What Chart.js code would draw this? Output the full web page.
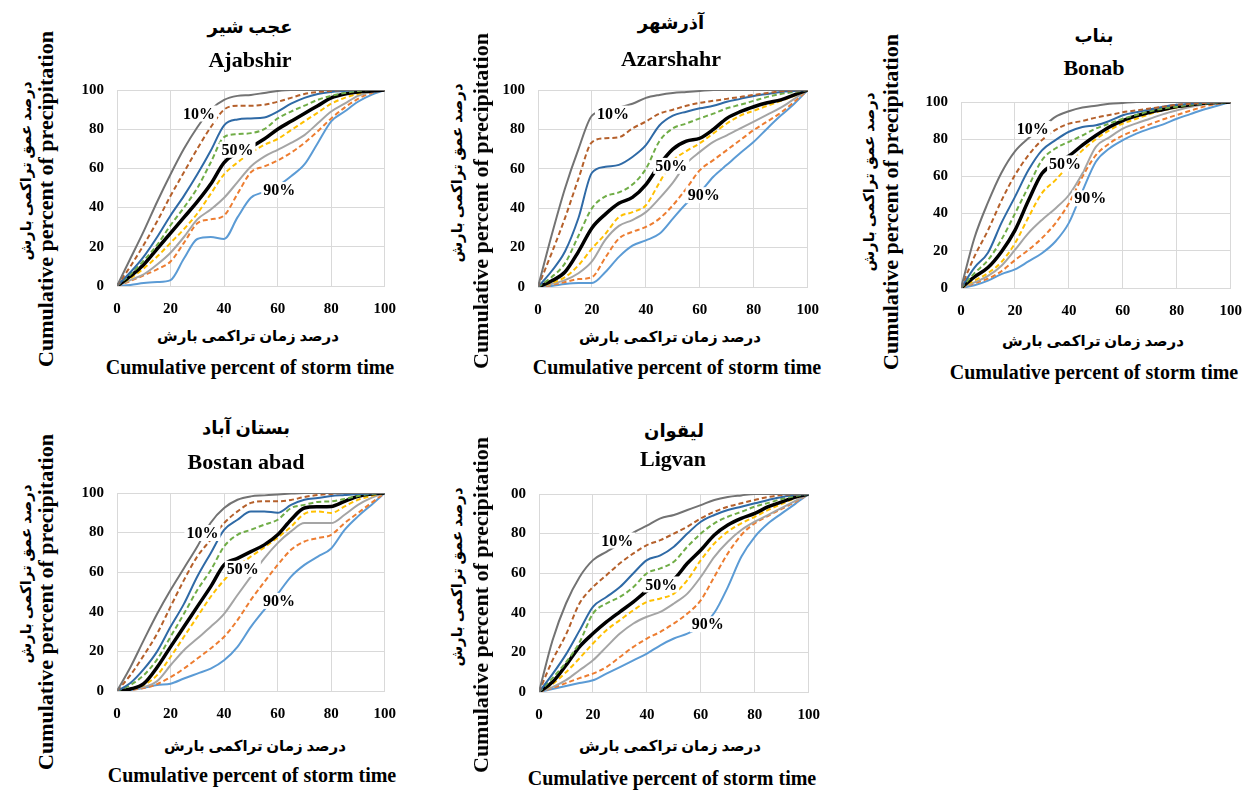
<!DOCTYPE html>
<html><head><meta charset="utf-8">
<script src="https://cdn.jsdelivr.net/npm/chart.js@4.4.1/dist/chart.umd.min.js"></script>
<style>
html,body{margin:0;padding:0;background:#fff;}
body{width:1253px;height:791px;position:relative;overflow:hidden;font-family:'Liberation Serif','DejaVu Sans',serif;}
.t{position:absolute;white-space:nowrap;font-weight:bold;color:#000;transform:translate(-50%,-50%);line-height:1;}
.r{transform:translate(-50%,-50%) rotate(-90deg);}
canvas{position:absolute;}
</style></head><body>
<script>
// ---------- shared axis data ----------
const xPct = [0,5,10,15,20,25,30,35,40,45,50,55,60,65,70,75,80,85,90,95,100];
const seriesNames = ['10%','20%','30%','40%','50%','60%','70%','80%','90%'];
const xTickLabels = ['0','20','40','60','80','100'];
const yTickLabels = ['0','20','40','60','80','100'];
const yTickLabelsLigvan = ['0','20','40','60','80','00'];
const curveLabels = ['10%','50%','90%'];

// ---------- Ajabshir ----------
const aj10 = [0,14,28,43,57,70,81,90,95,97,97.5,98.5,99.5,100,100,100,100,100,100,100,100];
const aj20 = [0,10,21,33,46,58,70,81,90,92,92,92.5,94,96,98,99,99.5,100,100,100,100];
const aj30 = [0,7,15,25,36,46,57,69,82,85,85.5,86,89,93,96,98,99,99.5,100,100,100];
const aj40 = [0,6,13,21,31,40,50,63,76,77.5,78,80,85.5,89,92,95,97,98.5,99.5,100,100];
const aj50 = [0,5,11,19,27,35,43,52,63,68,71,75,80,84,88,92,96,98,99,99.5,100];
const aj60 = [0,4,9,15,22,29,37,47,57,63,68,72,75,79.5,84,88.5,93,96,98,99.5,100];
const aj70 = [0,3,6,11,17,25,34,39,45,53,61,66,69.5,73,77,83,89,93,97,99,100];
const aj80 = [0,2.5,5.5,8.5,12.5,22,32,34,36,47,58,61,64,68,73,79,85.5,91,95.5,98.5,100];
const aj90 = [0,0.5,1.5,2,3,14,24,25,24,35,45,48,51,56,62,73,84,89,94,97.5,100];
const ajLabelX = [30.6,45,60.6];
const ajLabelY = [88,69.5,49];

// ---------- Azarshahr ----------
const az10 = [0,26,50,70,87,89.5,91,93,96,97.5,98.5,99,99.5,100,100,100,100,100,100,100,100];
const az20 = [0,17,35,55,73.5,75.5,76,80.5,84,88,90,92,93.5,94.5,95.5,96.5,97.5,98.5,99.3,99.7,100];
const az30 = [0,8,18,35,58,61,62,66,72,82,87,89,90.7,92,94,95.5,97,98,99,99.5,100];
const az40 = [0,5,12,26,40,46,48,52,60,74,80.5,83,85.6,88,90.7,92.5,94.5,96.5,98,99,100];
const az50 = [0,3,7.6,18,30,37,42.5,45.5,52,62,70,74,75.5,80,85.6,89,91.5,93.5,95,97.5,100];
const az60 = [0,2,5,11,19.5,27,35.5,38,41.5,53,64,69,73,78,83,87,89.5,92,94.5,97,100];
const az70 = [0,1.5,3.5,7,13,24,31,34,38,45,53,62.7,68.6,73.7,77,80.5,84,87.5,91,95.5,100];
const az80 = [0,1,2.5,4,5,15,24.6,28,30.5,34.7,41.5,50,59.3,64.4,69.5,74.6,79.7,84,88.5,94,100];
const az90 = [0,0.5,1.5,2,2,7.6,15.3,21,23.7,27,34.7,42.4,48,56,62,68,73.7,80.5,87,93,100];
const azLabelX = [27.8,49.4,61.4];
const azLabelY = [88,61.5,46.6];

// ---------- Bonab ----------
const bo10 = [0,27,46,62,73.5,80.5,86,92,95,97,98,99,99.5,100,100,100,100,100,100,100,100];
const bo20 = [0,17,31,47,60.7,71.4,79.5,85,88.4,89.8,91.6,93,94.5,95.5,96.5,97.5,98.5,99,99.5,99.8,100];
const bo30 = [0,11,19,35,49,63.4,74,79.5,84,86.6,87.5,89.8,92.9,94.5,96,97.5,98.5,99,99.5,99.8,100];
const bo40 = [0,8,15,26,40,54.5,68.7,75,78.6,82,85.7,88.4,91,93,95,96.5,97.5,98.5,99.2,99.7,100];
const bo50 = [0,6,11,19.5,31,47,61.6,67,71,76.8,82,86.6,90,92.5,94.5,96,97.5,98.5,99.3,99.7,100];
const bo60 = [0,4,8,14,24,38,51,58,66,74,80,84.8,88.4,91,93.5,95.5,97,98.3,99.2,99.7,100];
const bo70 = [0,3,6.5,12,20.5,29.5,36.6,42.8,50,61.6,75.9,81,85.7,88.5,91,93.5,95.5,97.3,98.7,99.5,100];
const bo80 = [0,2.5,5,9,15,20.5,26.8,34.8,45.5,59.8,71.4,77.7,82,85,88,90.7,93,95.3,97.5,99,100];
const bo90 = [0,1.5,4,7.5,10,14.3,18.7,25,35,52,67.9,75,79.5,83,85.7,88,91,93.5,96,98,100];
const boLabelX = [26.6,38.6,47.9];
const boLabelY = [85.5,67,48.2];

// ---------- Bostan abad ----------
const ba10 = [0,12,25.7,39,51,62,73,85,92.4,96.6,98.3,98.8,99.3,99.7,100,100,100,100,100,100,100];
const ba20 = [0,8,18,29,42.6,56,68,76.4,84.8,90.7,95,95.8,95.8,96.5,98,99,99.5,100,100,100,100];
const ba30 = [0,4,11,20,32.4,44,57.8,69.6,81.4,86.5,90.7,90.7,90,94,96.6,97.5,98.5,99,99.5,99.8,100];
const ba40 = [0,3,8,16,27.4,39,51,61,73,78.9,81.4,84,86.5,92.4,94,95.5,95.8,97,98.5,99.5,100];
const ba50 = [0,1,3.7,12,22.3,32.4,42.6,52.7,63.7,67,70.4,73.8,78.9,86.5,92.4,93,93.2,95.8,98.3,99.5,100];
const ba60 = [0,1,3,8,17.2,27.4,37.5,47.6,56,62.8,67.9,72.5,77.5,83,89.5,90.7,89.9,93.2,96.6,98.5,100];
const ba70 = [0,1,2,5,13,20.6,26.5,32.4,39,48.5,57.8,67,74.7,80.6,84.8,84.8,84.8,89,94,97.5,100];
const ba80 = [0,0.5,1.5,3.5,7,11.3,16.4,21.5,27.4,35.8,46,55,63.7,71.3,75.5,77.2,78.9,84.8,89.9,95,100];
const ba90 = [0,0.5,1.5,3,3.7,6.3,8.8,11.3,15.5,22.3,32.4,41,49,57.8,63.7,67.9,72,81.4,88.2,94,100];
const baLabelX = [31.9,47,60.5];
const baLabelY = [79.8,61.7,45.5];

// ---------- Ligvan ----------
const li10 = [0,26,44.7,58,66.6,70.8,75,80.5,84,87.7,89.4,91.9,94.4,97,98.5,99.3,100,100,100,100,100];
const li20 = [0,16,29,44.7,53,59,65,70,74.2,76.7,80,83.5,87.7,91,93.6,95.3,97,98.5,99.5,99.8,100];
const li30 = [0,9,19,31,43,48,53,60,66.6,69,73.4,80,86,89.4,91.9,93.6,95.3,97,98.5,99.5,100];
const li40 = [0,7,15,25,39.6,44.7,48,53,60,62.4,65.8,73.4,80,85.2,88.5,91,93.6,95.5,97.5,99,100];
const li50 = [0,5,13.5,22.8,29.5,35.4,40.5,45.5,51,54,57,65,71.7,79.3,84.3,87.7,90.2,93.6,96,98.5,100];
const li60 = [0,4,10,17,24.5,31.2,36.3,41.3,45.5,47.2,49.7,56.5,66.6,75,81,85.2,88.5,92,95,98,100];
const li70 = [0,2.5,6,11,16,22.8,29.5,34.6,38,40.5,44.7,49.7,58.2,68.3,75.9,81.8,86,89.5,93,96.5,100];
const li80 = [0,2,4.5,7,9.3,12.6,17.7,22.8,27,30.4,34.6,39.6,46.4,58.2,70,79.3,85.2,89,92.5,96,100];
const li90 = [0,1.5,3,4.5,5.9,9.3,12.6,16,19.4,23.6,27,29.5,33,40,53,68.3,78.4,85.2,90.2,95,100];
const liLabelX = [29,45.3,62.6];
const liLabelY = [76.5,54.3,34.2];

// ---------- styles ----------
const lineStyles = [
  {color:'#737373', dash:[],    w:2},
  {color:'#b5602b', dash:[5,3], w:2},
  {color:'#2f6aa6', dash:[],    w:2},
  {color:'#70ad47', dash:[5,3], w:2},
  {color:'#000000', dash:[],    w:3.5},
  {color:'#ffc000', dash:[5,3], w:2},
  {color:'#a5a5a5', dash:[],    w:2},
  {color:'#ed7d31', dash:[5,3], w:2},
  {color:'#5b9bd5', dash:[],    w:2}
];
const FONT = "'Liberation Serif','DejaVu Sans',serif";

const xTitleFa = 'درصد زمان تراکمی بارش';
const xTitleEn = 'Cumulative percent of storm time';
const yTitleFa = 'درصد عمق تراکمی بارش';
const yTitleEn = 'Cumulative percent of precipitation';

const panels = [
  {series:[aj10,aj20,aj30,aj40,aj50,aj60,aj70,aj80,aj90], lx:ajLabelX, ly:ajLabelY, yTicks:yTickLabels,
   plot:{l:117,t:90,r:385,b:286}, fa:'عجب شیر', en:'Ajabshir',
   pos:{tFa:[250,27],tEn:[250,60],xFa:[248,336],xEn:[250,367],yFa:[26,171],yEn:[46,199]}},
  {series:[az10,az20,az30,az40,az50,az60,az70,az80,az90], lx:azLabelX, ly:azLabelY, yTicks:yTickLabels,
   plot:{l:538,t:90,r:808,b:287}, fa:'آذرشهر', en:'Azarshahr',
   pos:{tFa:[671,23],tEn:[671,59],xFa:[670,337],xEn:[677,367],yFa:[457,173],yEn:[481,201]}},
  {series:[bo10,bo20,bo30,bo40,bo50,bo60,bo70,bo80,bo90], lx:boLabelX, ly:boLabelY, yTicks:yTickLabels,
   plot:{l:961,t:102,r:1231,b:288}, fa:'بناب', en:'Bonab',
   pos:{tFa:[1094,36],tEn:[1094,68],xFa:[1093,341],xEn:[1094,372],yFa:[869,182],yEn:[891,202]}},
  {series:[ba10,ba20,ba30,ba40,ba50,ba60,ba70,ba80,ba90], lx:baLabelX, ly:baLabelY, yTicks:yTickLabels,
   plot:{l:117,t:493,r:385,b:691}, fa:'بستان آباد', en:'Bostan abad',
   pos:{tFa:[246,428],tEn:[246,462],xFa:[255,746],xEn:[252,775],yFa:[26,574],yEn:[46,602]}},
  {series:[li10,li20,li30,li40,li50,li60,li70,li80,li90], lx:liLabelX, ly:liLabelY, yTicks:yTickLabelsLigvan,
   plot:{l:539,t:494,r:809,b:692}, fa:'لیقوان', en:'Ligvan',
   pos:{tFa:[674,431],tEn:[673,459],xFa:[670,746],xEn:[672,778],yFa:[457,577],yEn:[481,605]}}
];

const pctLabelPlugin = {
  id:'pctLabels',
  afterDatasetsDraw(chart, args, opts){
    const ctx = chart.ctx, xs = chart.scales.x, ys = chart.scales.y;
    ctx.save();
    ctx.font = 'bold 16px ' + FONT;
    ctx.textAlign = 'center';
    ctx.textBaseline = 'middle';
    opts.x.forEach((vx, i) => {
      const px = xs.getPixelForValue(vx), py = ys.getPixelForValue(opts.y[i]);
      const w = ctx.measureText(curveLabels[i]).width;
      ctx.fillStyle = '#fff';
      ctx.fillRect(px - w/2 - 2, py - 8, w + 4, 16);
      ctx.fillStyle = '#000';
      ctx.fillText(curveLabels[i], px, py + 1);
    });
    ctx.restore();
  }
};

function addText(txt, p, size, rotate){
  const d = document.createElement('div');
  d.className = 't' + (rotate ? ' r' : '');
  d.style.left = p[0] + 'px';
  d.style.top = p[1] + 'px';
  d.style.fontSize = size + 'px';
  d.textContent = txt;
  document.body.appendChild(d);
}

const YW = 50, PT = 14, PR = 24, XH = 34;

function chartConfig(p){
  const tickFont = {family: FONT, size: 15, weight: 'bold'};
  return {
    type: 'line',
    data: {
      datasets: p.series.map((arr, i) => ({
        label: seriesNames[i],
        data: arr.map((v, j) => ({x: xPct[j], y: v})),
        borderColor: lineStyles[i].color,
        borderWidth: lineStyles[i].w,
        borderDash: lineStyles[i].dash,
        pointRadius: 0,
        fill: false,
        cubicInterpolationMode: 'monotone'
      }))
    },
    options: {
      responsive: false, maintainAspectRatio: false, animation: false, devicePixelRatio: 1,
      layout: {padding: {left: 0, top: PT, right: PR, bottom: 0}},
      plugins: {legend: {display: false}, tooltip: {enabled: false}, title: {display: false},
                pctLabels: {x: p.lx, y: p.ly}},
      scales: {
        x: {type: 'linear', min: 0, max: 100,
            afterFit: s => { s.height = XH; },
            ticks: {stepSize: 20, padding: 14, color: '#000', font: tickFont, maxRotation: 0,
                    callback: (v, i) => xTickLabels[i]},
            grid: {color: '#d9d9d9', drawTicks: false},
            border: {color: '#d9d9d9'}},
        y: {type: 'linear', min: 0, max: 100,
            afterFit: s => { s.width = YW; },
            ticks: {stepSize: 20, padding: 13, color: '#000', font: tickFont,
                    callback: (v, i) => p.yTicks[i]},
            grid: {color: '#d9d9d9', drawTicks: false},
            border: {color: '#d9d9d9'}}
      }
    },
    plugins: [pctLabelPlugin]
  };
}

function makeCanvas(w, h){
  const cv = document.createElement('canvas');
  cv.width = w; cv.height = h;
  cv.style.width = w + 'px'; cv.style.height = h + 'px';
  cv.style.left = '0px'; cv.style.top = '0px';
  document.body.appendChild(cv);
  return cv;
}

panels.forEach(p => {
  const pw = p.plot.r - p.plot.l, ph = p.plot.b - p.plot.t;
  let cw = pw + YW + PR, ch = ph + PT + XH;
  let cv = makeCanvas(cw, ch);
  let chart = new Chart(cv, chartConfig(p));
  let ca = chart.chartArea;
  const dw = pw - (ca.right - ca.left), dh = ph - (ca.bottom - ca.top);
  if (Math.abs(dw) > 0.5 || Math.abs(dh) > 0.5) {
    chart.destroy(); cv.remove();
    cw += dw; ch += dh;
    cv = makeCanvas(Math.round(cw), Math.round(ch));
    chart = new Chart(cv, chartConfig(p));
    ca = chart.chartArea;
  }
  cv.style.left = (p.plot.l - ca.left) + 'px';
  cv.style.top = (p.plot.t - ca.top) + 'px';

  addText(p.fa, p.pos.tFa, 18, false);
  addText(p.en, p.pos.tEn, 22, false);
  addText(xTitleFa, p.pos.xFa, 15, false);
  addText(xTitleEn, p.pos.xEn, 20, false);
  addText(yTitleFa, p.pos.yFa, 15, true);
  addText(yTitleEn, p.pos.yEn, 22, true);
});
</script>
</body></html>
